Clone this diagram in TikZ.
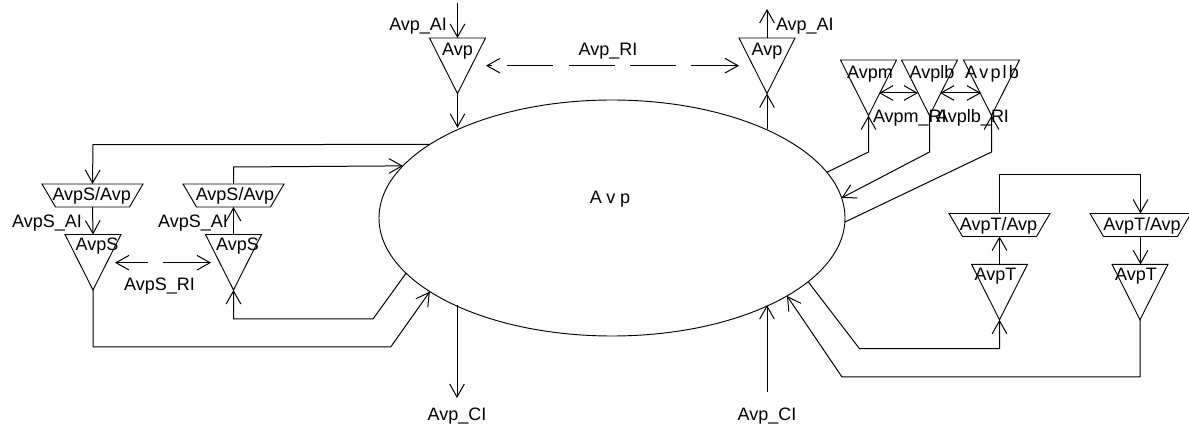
\documentclass[tikz,border=0pt]{standalone}
\usepackage{fontspec}
\setmainfont{Liberation Sans}
\usetikzlibrary{arrows.meta,shapes.geometric}
\tikzset{
  shapeline/.style={draw=black,line width=0.7pt,line join=miter},
  conn/.style={draw=black,line width=0.75pt},
  arr/.style={conn,-{Straight Barb[length=9.75pt,width=11pt,line width=0.75pt]}},
  riarr/.style={conn,{Straight Barb[length=9.75pt,width=11pt,line width=0.75pt]}-{Straight Barb[length=9.75pt,width=11pt,line width=0.75pt]},dash pattern=on 34.5pt off 11.6pt},
  lab/.style={anchor=base,inner sep=0pt,outer sep=0pt,font=\fontsize{13.5pt}{15pt}\selectfont},
  bigell/.style={ellipse,shapeline,minimum width=349.5pt,minimum height=177pt,inner sep=0pt,outer sep=0pt}
}
% name, centre x, top y, label x, label y, text
\newcommand{\mytri}[6]{%
  \coordinate (#1-top) at (#2,#3);
  \coordinate (#1-apex) at (#2,#3+55.5);
  \draw[shapeline] (#2-28,#3) -- (#2+28,#3) -- (#1-apex) -- cycle;
  \node[lab] (#1) at (#4,#5+6) {#6};
}
\newcommand{\mytrap}[6]{%
  \coordinate (#1-top) at (#2,#3);
  \coordinate (#1-bot) at (#2,#3+23);
  \draw[shapeline] (#2-50.5,#3) -- (#2+50.5,#3) -- (#2+37,#3+23) -- (#2-37,#3+23) -- cycle;
  \node[lab] (#1) at (#4,#5+6) {#6};
}
\begin{document}
\begin{tikzpicture}[x=0.75pt,y=-0.75pt]
\useasboundingbox (0,0) rectangle (1189,427);
% central ellipse
\node[bigell] (ell) at (612,218) {};
\node[lab] (elltext) at (610,204) {A\hspace{3.5pt}v\hspace{3.5pt}p};
% triangles
\mytri{avpL}{457.5}{38}{457.5}{50}{Avp}
\mytri{avpR}{767}{38}{767}{50}{Avp}
\mytri{sL}{93}{234.5}{97}{245}{AvpS}
\mytri{sR}{233.5}{234.5}{237.5}{245}{AvpS}
\mytri{m}{868.5}{60}{870}{72.7}{Avpm}
\mytri{lb}{929.5}{60}{932}{72.7}{Avplb}
\mytri{lc}{991.5}{60}{992}{72.7}{A\hspace{1.6pt}v\hspace{1.6pt}p\hspace{1.6pt}l\hspace{1.6pt}b}
\mytri{tL}{999.5}{264.3}{995.5}{275}{AvpT}
\mytri{tR}{1140}{264.3}{1136}{275}{AvpT}
% trapezoids
\mytrap{asL}{92.5}{184}{91.7}{195}{AvpS/Avp}
\mytrap{asR}{233.5}{184}{235}{195}{AvpS/Avp}
\mytrap{atL}{999.5}{213.5}{998.5}{225}{AvpT/Avp}
\mytrap{atR}{1140.5}{213.5}{1142}{225}{AvpT/Avp}
% free ends
\coordinate (aiIn) at (457.5,3);
\coordinate (aiOut) at (767,9);
\coordinate (ciOut) at (457,398);
\coordinate (ciIn) at (767,392);
\coordinate (sb1) at (93,144.7);
\coordinate (sb2) at (233.5,167);
\coordinate (sb3) at (373,319);
\coordinate (sb4) at (390.7,347);
\coordinate (tb1) at (859.5,348.7);
\coordinate (tb2) at (842,377);
\coordinate (mb1) at (868.5,152);
\coordinate (mb2) at (929.5,152);
\coordinate (mb3) at (991.5,152);
\coordinate (tt) at (999.5,175);
\coordinate (rA1) at (739,65.7);   \coordinate (rA2) at (486,65.7);
\coordinate (rS1) at (211,262.7);  \coordinate (rS2) at (115,262.7);
\coordinate (rm1) at (879,93);     \coordinate (rm2) at (918,93);
\coordinate (rl1) at (940,93);     \coordinate (rl2) at (981,93);
% top Avp
\draw[arr] (aiIn) -- (avpL-top);
\draw[arr] (avpL-apex) -- (avpL-apex |- ell.149.9);
\draw[arr] (avpR-top) -- (aiOut);
\draw[arr] (avpR-apex |- ell.30.1) -- (avpR-apex);
\draw[riarr] (rA1) -- (rA2);
% left side
\draw[arr] (ell.158.15) -- (sb1) -- (asL-top);
\draw[arr] (asL-bot) -- (sL-top);
\draw[arr] (sR-top) -- (asR-bot);
\draw[arr] (asR-top) -- (sb2) -- (ell.166.4);
\draw[arr] (ell.195.5) -- (sb3) -- (sb3 -| sR-apex) -- (sR-apex);
\draw[arr] (sL-apex) -- (sL-apex |- sb4) -- (sb4) -- (ell.202);
\draw[riarr] (rS1) -- (rS2);
% bottom
\draw[arr] (ciOut |- ell.209.9) -- (ciOut);
\draw[arr] (ciIn) -- (ciIn |- ell.-29.9);
% upper right
\draw[arr] (ell.12) -- (mb1) -- (m-apex);
\draw[arr] (lb-apex) -- (mb2) -- (ell.5.76);
\draw[arr] (ell.-1.16) -- (mb3) -- (lc-apex);
\draw[riarr] (rm1) -- (rm2);
\draw[riarr] (rl1) -- (rl2);
% lower right
\draw[arr] (atL-top) -- (tt) -- (tt -| atR-top) -- (atR-top);
\draw[arr] (tL-top) -- (atL-bot);
\draw[arr] (atR-bot) -- (atR-bot |- tR-top);
\draw[arr] (ell.-18) -- (tb1) -- (tb1 -| tL-apex) -- (tL-apex);
\draw[arr] (tR-apex) -- (tR-apex |- tb2) -- (tb2) -- (ell.-24.55);
% labels
\node[lab,anchor=base east] (l1) at (447,31) {Avp\_AI};
\node[lab,anchor=base west] (l2) at (776,31) {Avp\_AI};
\node[lab] (l3) at (608,56) {Avp\_RI};
\node[lab] (l4) at (47,228) {AvpS\_AI};
\node[lab] (l5) at (193,228) {AvpS\_AI};
\node[lab] (l6) at (159.5,291) {AvpS\_RI};
\node[lab,anchor=base west] (l7) at (873,123) {Avpm\_RI};
\node[lab,anchor=base east] (l8) at (1009,123) {Avplb\_RI};
\node[lab] (l9) at (457,421) {Avp\_CI};
\node[lab] (l10) at (767,421) {Avp\_CI};
\end{tikzpicture}
\end{document}
